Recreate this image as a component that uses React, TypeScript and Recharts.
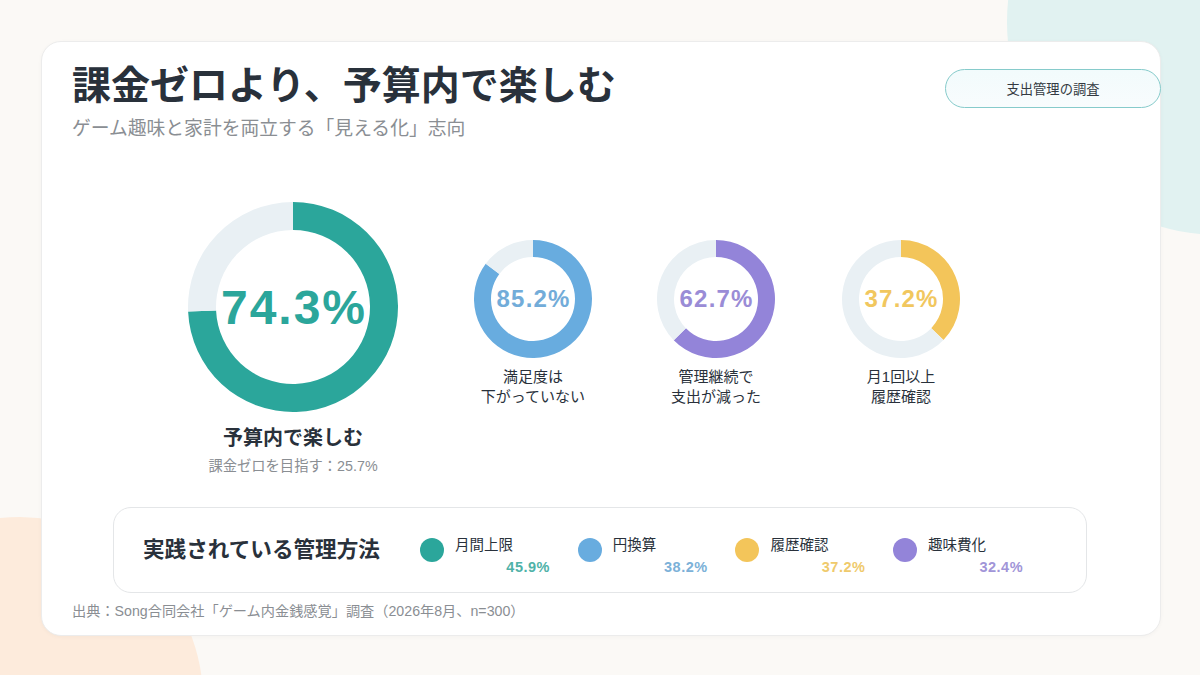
import React from "react";
import { Cell, Pie, PieChart } from "recharts";

const ringCategories = ["予算内で楽しむ", "満足度は下がっていない", "管理継続で支出が減った", "月1回以上履歴確認"];
const ringValues = [74.3, 85.2, 62.7, 37.2];
const ringLabelLines = [["予算内で楽しむ"], ["満足度は", "下がっていない"], ["管理継続で", "支出が減った"], ["月1回以上", "履歴確認"]];
const zeroTargetShare = 25.7;

const methodLabels = ["月間上限", "円換算", "履歴確認", "趣味費化"];
const methodValues = [45.9, 38.2, 37.2, 32.4];

const RING_COLORS = ["#2ba69b", "#68acdf", "#9384d9", "#f3c55a"];
const RING_TEXT_COLORS = ["#2ba69b", "#72acd9", "#9a8cd6", "#f1c75e"];
const METHOD_COLORS = ["#2ba69b", "#68acdf", "#f3c55a", "#9384d9"];
const METHOD_TEXT_COLORS = ["#4fb2a8", "#7cb1d8", "#efca6c", "#a195d8"];
const TRACK = "#e9f0f4";
const FONT = '"Liberation Sans", "Noto Sans CJK JP", sans-serif';

type DonutProps = {
  value: number;
  color: string;
  textColor: string;
  outer: number;
  inner: number;
  cx: number;
  cy: number;
  fontSize: number;
  spacing: number;
};

function Donut({ value, color, textColor, outer, inner, cx, cy, fontSize, spacing }: DonutProps) {
  const size = outer * 2 + 4;
  const slices = [
    { name: "value", value },
    { name: "rest", value: +(100 - value).toFixed(1) },
  ];
  return (
    <div style={{ position: "absolute", left: cx - size / 2, top: cy - size / 2, width: size, height: size }}>
      <PieChart width={size} height={size} margin={{ top: 0, right: 0, bottom: 0, left: 0 }}>
        <Pie
          data={slices}
          dataKey="value"
          cx="50%"
          cy="50%"
          innerRadius={inner}
          outerRadius={outer}
          startAngle={90}
          endAngle={-270}
          stroke="none"
          isAnimationActive={false}
        >
          <Cell fill={color} />
          <Cell fill={TRACK} />
        </Pie>
      </PieChart>
      <div
        style={{
          position: "absolute",
          inset: 0,
          display: "flex",
          alignItems: "center",
          justifyContent: "center",
          fontSize,
          fontWeight: 700,
          color: textColor,
          letterSpacing: spacing,
          paddingLeft: spacing,
        }}
      >
        {value}%
      </div>
    </div>
  );
}

const smallCenters = [533, 716, 901];

export default function App() {
  return (
    <div
      style={{
        position: "absolute",
        left: 0,
        top: 0,
        width: 1200,
        height: 675,
        overflow: "hidden",
        background: "#fbf9f6",
        fontFamily: FONT,
        color: "#29313b",
      }}
    >
      {/* background blobs */}
      <div style={{ position: "absolute", left: 1220 - 213, top: 22 - 213, width: 426, height: 426, borderRadius: "50%", background: "#e1f2f1" }} />
      <div style={{ position: "absolute", left: 20 - 183, top: 700 - 183, width: 366, height: 366, borderRadius: "50%", background: "#fdebdc" }} />

      {/* card */}
      <div
        style={{
          position: "absolute",
          left: 41,
          top: 41,
          width: 1120,
          height: 595,
          borderRadius: 20,
          background: "#ffffff",
          border: "1px solid #ececec",
          boxSizing: "border-box",
          boxShadow: "0 1px 4px rgba(0,0,0,0.03)",
        }}
      />

      <div style={{ position: "absolute", left: 72, top: 61, fontSize: 39, fontWeight: 700, lineHeight: "50px", whiteSpace: "nowrap", color: "#29313b" }}>
        課金ゼロより、予算内で楽しむ
      </div>
      <div style={{ position: "absolute", left: 72, top: 116, fontSize: 18.8, lineHeight: "26px", color: "#8a8e93", whiteSpace: "nowrap" }}>
        ゲーム趣味と家計を両立する「見える化」志向
      </div>

      <div
        style={{
          position: "absolute",
          left: 945,
          top: 69,
          width: 216,
          height: 39,
          boxSizing: "border-box",
          borderRadius: 20,
          border: "1.5px solid #86cbcb",
          background: "linear-gradient(180deg, #f2fbfc 0%, #f8fcfd 100%)",
          display: "flex",
          alignItems: "center",
          justifyContent: "center",
          fontSize: 13.3,
          color: "#333a42",
        }}
      >
        支出管理の調査
      </div>

      {/* headline donut */}
      <Donut value={ringValues[0]} color={RING_COLORS[0]} textColor={RING_TEXT_COLORS[0]} outer={105} inner={77} cx={293} cy={307} fontSize={48} spacing={2} />
      <div style={{ position: "absolute", left: 193, width: 200, top: 425, textAlign: "center", fontSize: 20, fontWeight: 700, lineHeight: "26px" }}>
        {ringLabelLines[0][0]}
      </div>
      <div style={{ position: "absolute", left: 163, width: 260, top: 456, textAlign: "center", fontSize: 14.3, lineHeight: "20px", color: "#8a8e93" }}>
        課金ゼロを目指す：{zeroTargetShare}%
      </div>

      {/* small donuts */}
      {smallCenters.map((cx, i) => (
        <React.Fragment key={ringCategories[i + 1]}>
          <Donut
            value={ringValues[i + 1]}
            color={RING_COLORS[i + 1]}
            textColor={RING_TEXT_COLORS[i + 1]}
            outer={59}
            inner={42}
            cx={cx}
            cy={299}
            fontSize={24}
            spacing={1.2}
          />
          <div style={{ position: "absolute", left: cx - 90, width: 180, top: 367, textAlign: "center", fontSize: 15, lineHeight: "20px", color: "#29313b" }}>
            {ringLabelLines[i + 1].map((line) => (
              <div key={line}>{line}</div>
            ))}
          </div>
        </React.Fragment>
      ))}

      {/* methods panel */}
      <div
        style={{
          position: "absolute",
          left: 113,
          top: 507,
          width: 974,
          height: 86,
          boxSizing: "border-box",
          borderRadius: 18,
          border: "1px solid #e4e6e8",
          background: "#ffffff",
        }}
      />
      <div style={{ position: "absolute", left: 143, top: 535, fontSize: 21.6, fontWeight: 700, lineHeight: "30px", whiteSpace: "nowrap" }}>
        実践されている管理方法
      </div>
      {methodLabels.map((label, i) => {
        const x = 432 + i * 157.7;
        return (
          <React.Fragment key={label}>
            <div style={{ position: "absolute", left: x - 12, top: 538, width: 24, height: 24, borderRadius: "50%", background: METHOD_COLORS[i] }} />
            <div style={{ position: "absolute", left: x + 23, top: 535, fontSize: 14.5, lineHeight: "20px", color: "#29313b", whiteSpace: "nowrap" }}>{label}</div>
            <div
              style={{
                position: "absolute",
                left: x + 18,
                width: 100,
                top: 557,
                textAlign: "right",
                fontSize: 14.5,
                fontWeight: 700,
                lineHeight: "20px",
                letterSpacing: 0.5,
                color: METHOD_TEXT_COLORS[i],
              }}
            >
              {methodValues[i]}%
            </div>
          </React.Fragment>
        );
      })}

      <div style={{ position: "absolute", left: 72, top: 602, fontSize: 14.2, lineHeight: "18px", color: "#8a8e93", whiteSpace: "nowrap" }}>
        出典：Song合同会社「ゲーム内金銭感覚」調査（2026年8月、n=300）
      </div>
    </div>
  );
}
